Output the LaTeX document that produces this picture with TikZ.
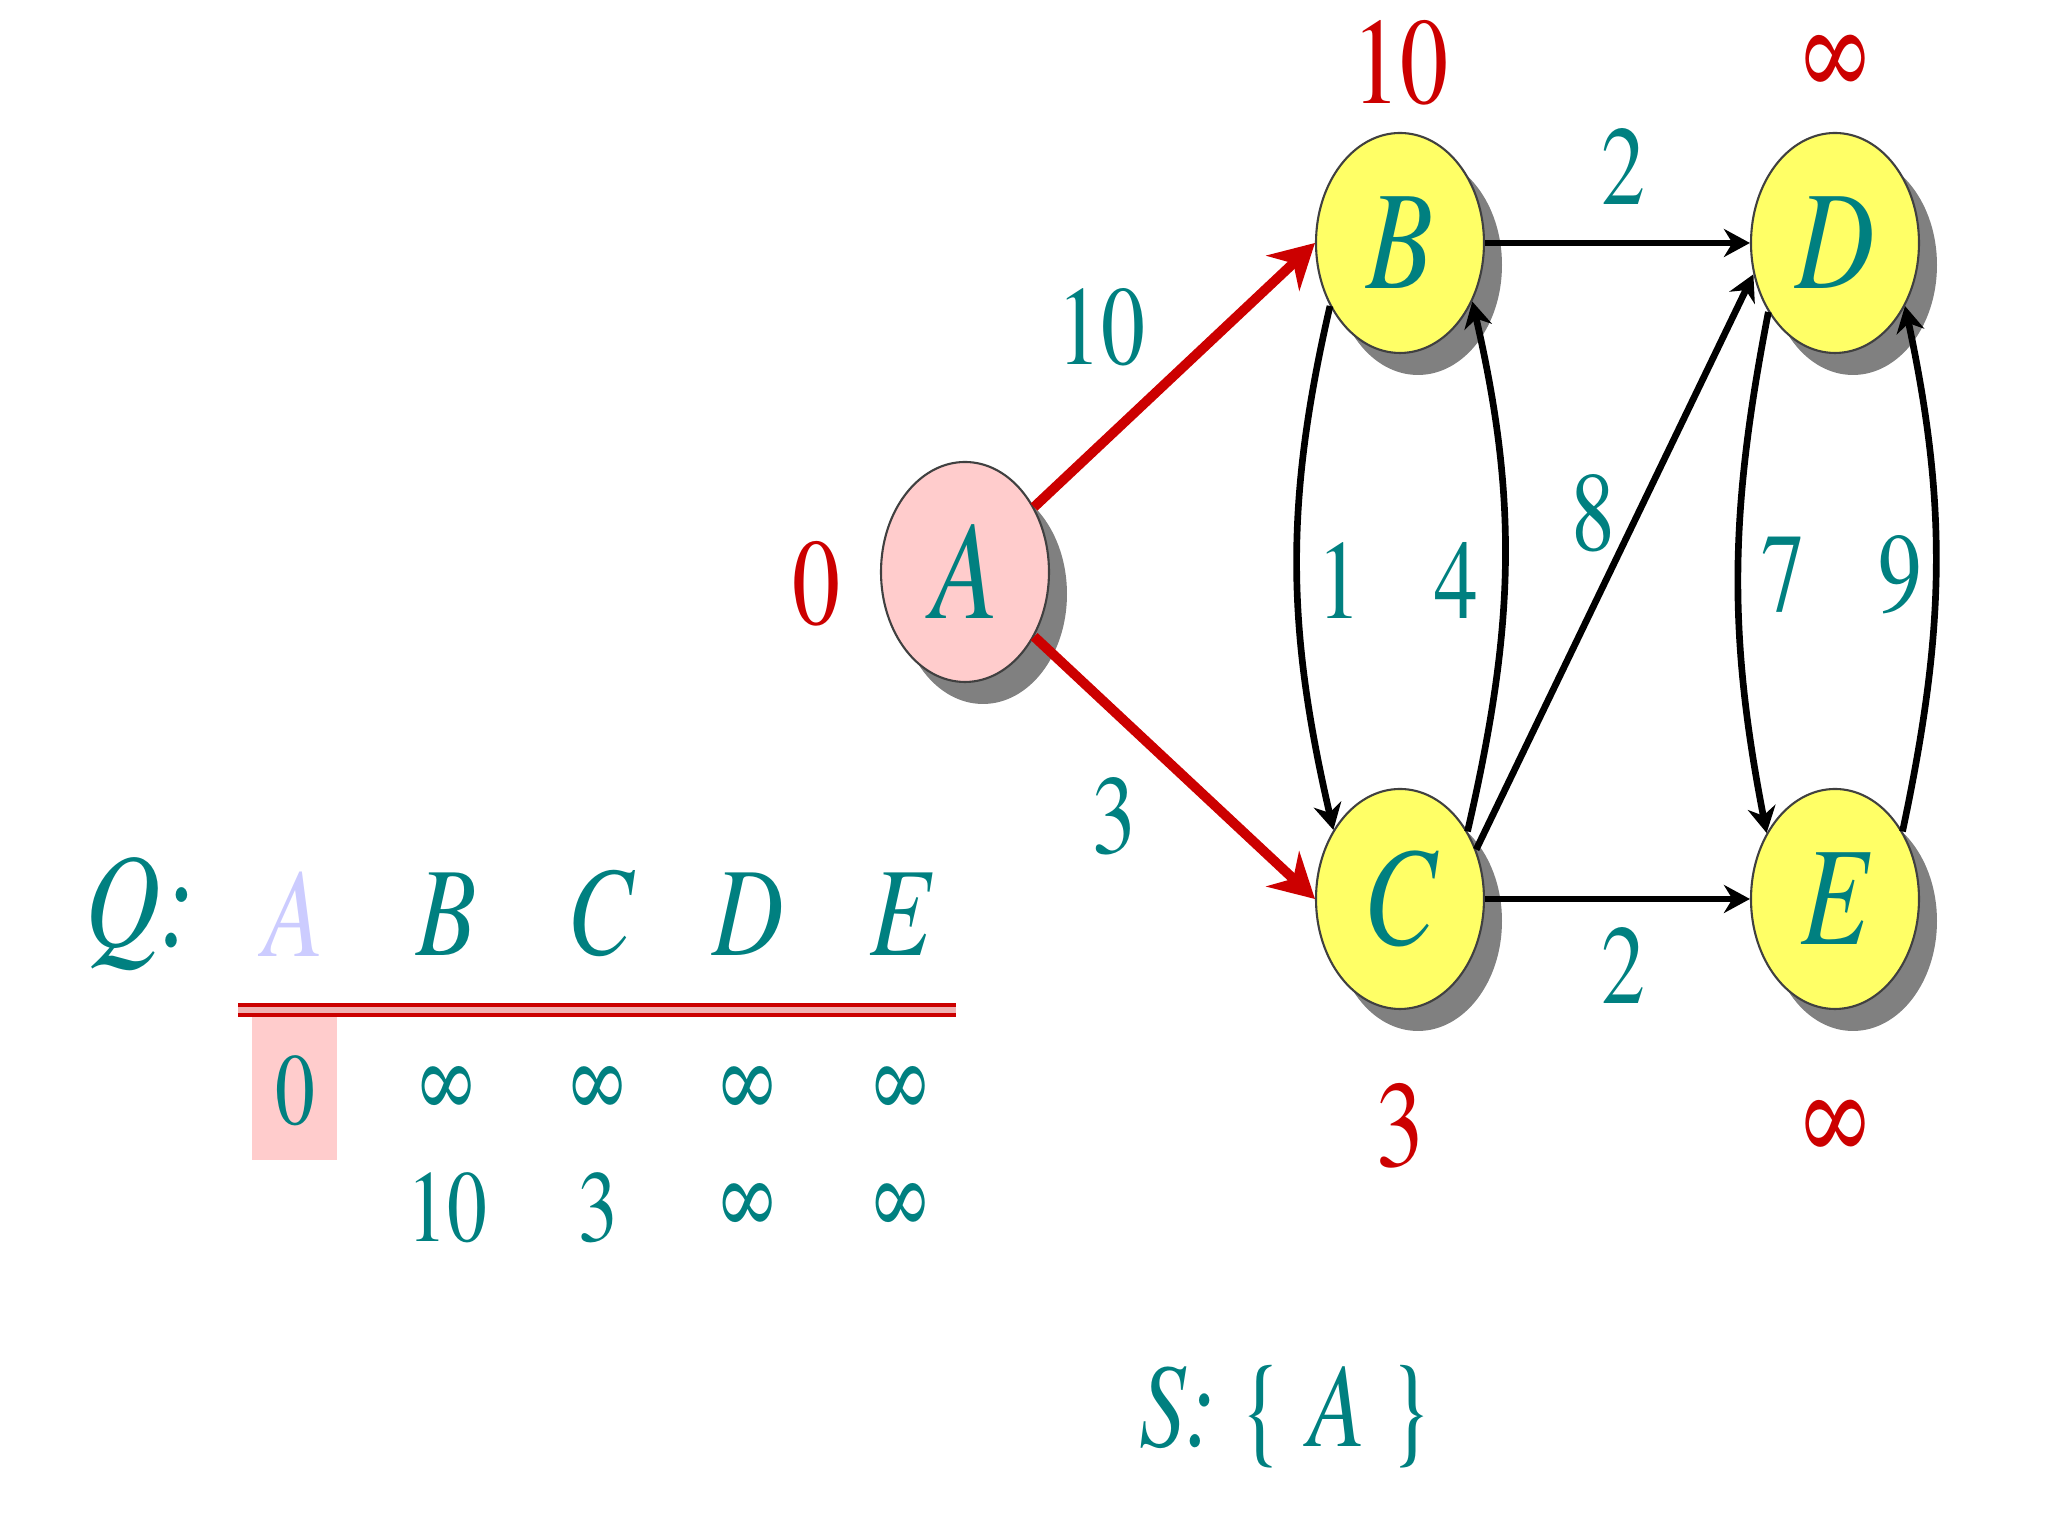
\documentclass[tikz,border=0pt]{standalone}
\usepackage{fontspec}
\setmainfont{texgyretermes}[Extension=.otf,UprightFont=*-regular,ItalicFont=*-italic,FakeStretch=0.78]
\usetikzlibrary{arrows.meta,shapes.geometric,shadows}
\definecolor{qteal}{RGB}{0,128,128}
\definecolor{qred}{RGB}{204,0,0}
\definecolor{nodeyellow}{RGB}{255,255,102}
\definecolor{nodepink}{RGB}{255,204,204}
\definecolor{fadeA}{RGB}{204,204,255}
\begin{document}
\begin{tikzpicture}[x=1cm,y=1cm,
  vertex/.style={ellipse,draw=black!75,line width=0.6pt,minimum width=1.68cm,minimum height=2.2cm,inner sep=0pt,
    font=\fontsize{40}{42}\selectfont\itshape,text=qteal,
    drop shadow={shadow xshift=0.18cm,shadow yshift=-0.22cm,fill=gray,opacity=1}},
  weight/.style={font=\fontsize{32}{34}\selectfont,text=qteal},
  dist/.style={font=\fontsize{35}{37}\selectfont,text=qred},
  qhead/.style={font=\fontsize{36}{38}\selectfont\itshape,text=qteal},
  qval/.style={font=\fontsize{29}{31}\selectfont,text=qteal},
  redarc/.style={qred,line width=2.8pt,-{Stealth[length=4.4mm,width=4.8mm]}},
  blackarc/.style={black,line width=1.9pt,-{Stealth[length=2.6mm,width=2.8mm]}}]
  \useasboundingbox (0,0) rectangle (20.48,15.36);
  % graph
  \node[vertex,fill=nodepink] (A) at (9.65,9.64) {A};
  \node[vertex,fill=nodeyellow] (B) at (14.00,12.93) {B};
  \node[vertex,fill=nodeyellow] (C) at (14.00,6.37) {C};
  \node[vertex,fill=nodeyellow] (D) at (18.35,12.93) {D};
  \node[vertex,fill=nodeyellow] (E) at (18.35,6.37) {E};
  \draw[redarc] (A) -- (B.west);
  \draw[redarc] (A) -- (C.west);
  \draw[blackarc] (B) -- (D);
  \draw[blackarc] (C) -- (E);
  \draw[blackarc] (C.33) -- (D.201);
  \draw[blackarc] (B.222) to[out=257,in=103] (C.134);
  \draw[blackarc] (C.45) to[out=77,in=283] (B.321);
  \draw[blackarc] (D.226) to[out=259,in=101] (E.136);
  \draw[blackarc] (E.45) to[out=78,in=282] (D.318);
  % distances
  \node[dist] (dA) at (8.16,9.52) {0};
  \node[dist] (dB) at (14.00,14.73) {10};
  \node[dist] (dC) at (14.00,4.10) {3};
  \node[dist] (dD) at (18.35,14.71) {∞};
  \node[dist] (dE) at (18.35,4.06) {∞};
  % weights
  \node[weight] (wAB) at (11.01,12.09) {10};
  \node[weight] (wAC) at (11.14,7.20) {3};
  \node[weight] (wBD) at (16.23,13.69) {2};
  \node[weight] (wCE) at (16.23,5.70) {2};
  \node[weight] (wBC) at (13.39,9.55) {1};
  \node[weight] (wCB) at (14.56,9.55) {4};
  \node[weight] (wCD) at (15.93,10.23) {8};
  \node[weight] (wDE) at (17.83,9.61) {7};
  \node[weight] (wED) at (19.00,9.61) {9};
  % queue
  \fill[nodepink] (2.52,3.76) rectangle (3.37,5.24);
  \draw[draw=qred,double=qred!30,double distance=1.5pt,line width=1.2pt] (2.38,5.26) -- (9.56,5.26);
  \node[qhead,font=\fontsize{38}{40}\selectfont\itshape] (qlabel) at (1.40,6.22) {Q:};
  \node[qhead,text=fadeA] (qA) at (2.94,6.22) {A};
  \node[qhead] (qB) at (4.47,6.22) {B};
  \node[qhead] (qC) at (6.00,6.22) {C};
  \node[qhead] (qD) at (7.48,6.22) {D};
  \node[qhead] (qE) at (9.01,6.22) {E};
  \node[qval] (rA) at (2.95,4.45) {0};
  \node[qval] (rB) at (4.47,4.45) {∞};
  \node[qval] (rC) at (5.98,4.45) {∞};
  \node[qval] (rD) at (7.48,4.45) {∞};
  \node[qval] (rE) at (9.01,4.45) {∞};
  \node[qval] (sB) at (4.47,3.28) {10};
  \node[qval] (sC) at (5.98,3.28) {3};
  \node[qval] (sD) at (7.48,3.28) {∞};
  \node[qval] (sE) at (9.01,3.28) {∞};
  \node[qhead,font=\fontsize{34}{36}\selectfont] (sset) at (12.86,1.19) {\itshape S: \upshape\{ \itshape A \upshape\}};
\end{tikzpicture}
\end{document}
